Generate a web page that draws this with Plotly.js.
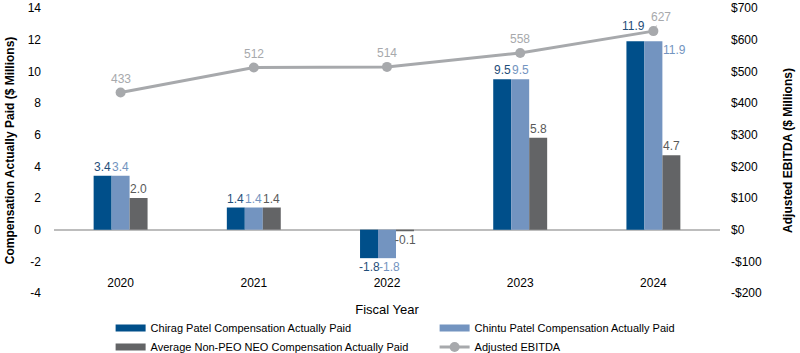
<!DOCTYPE html>
<html>
<head>
<meta charset="utf-8">
<script src="https://cdn.plot.ly/plotly-3.0.1.min.js"></script>
<style>html,body{margin:0;padding:0;background:#fff;}#chart{width:800px;height:353px;}</style>
</head>
<body>
<div id="chart"></div>
<script>
var years = ['2020', '2021', '2022', '2023', '2024'];
var chirag = [3.4, 1.4, -1.8, 9.5, 11.9];
var chintu = [3.4, 1.4, -1.8, 9.5, 11.9];
var avgNeo = [2.0, 1.4, -0.1, 5.8, 4.7];
var ebitda = [433, 512, 514, 558, 627];

var leftTickVals = [-4, -2, 0, 2, 4, 6, 8, 10, 12, 14];
var leftTickText = ['-4', '-2', '0', '2', '4', '6', '8', '10', '12', '14'];
var rightTickVals = [-200, -100, 0, 100, 200, 300, 400, 500, 600, 700];
var rightTickText = ['-$200', '-$100', '$0', '$100', '$200', '$300', '$400', '$500', '$600', '$700'];

var names = ['Chirag Patel Compensation Actually Paid', 'Chintu Patel Compensation Actually Paid',
             'Average Non-PEO NEO Compensation Actually Paid', 'Adjusted EBITDA'];
var colors = ['#004f8a', '#7394c0', '#636466', '#a7a9ac'];
var labelColors = ['#1f4e79', '#7394c0', '#595959', '#a7a9ac'];
var FONT = 'Liberation Sans, Arial, Helvetica, sans-serif';

var series = [chirag, chintu, avgNeo];
var traces = series.map(function (vals, s) {
  return {
    type: 'bar', x: years, y: vals, name: names[s], showlegend: false,
    marker: {color: colors[s]}, hoverinfo: 'skip'
  };
});
// legend keys drawn as wide flat bars (like the reference)
series.forEach(function (vals, s) {
  traces.push({
    type: 'scatter', mode: 'lines', x: [null], y: [null], name: names[s],
    line: {color: colors[s], width: 7}, legendrank: s + 1, hoverinfo: 'skip'
  });
});
traces.push({
  type: 'scatter', mode: 'lines+markers', x: years, y: ebitda, yaxis: 'y2', legendrank: 4,
  name: names[3], line: {color: colors[3], width: 3}, marker: {color: colors[3], size: 10},
  hoverinfo: 'skip', cliponaxis: false
});

var offsets = [-18, 0, 18];
var annotations = [];
series.forEach(function (vals, s) {
  vals.forEach(function (v, i) {
    var a = {
      x: i, y: v, xref: 'x', yref: 'y', text: v.toFixed(1), showarrow: false,
      font: {color: labelColors[s], size: 12, family: FONT},
      xshift: offsets[s], xanchor: 'center',
      yanchor: v >= 0 ? 'bottom' : 'top'
    };
    if (s === 1 && i === 4) {            // beside the bar
      a.xanchor = 'left'; a.xshift = offsets[s] + 8; a.yanchor = 'top';
    }
    if (s === 0 && i === 4) { a.yshift = 6; a.xshift = offsets[s] - 2; }
    if (s === 1 && i === 2) { a.xshift = offsets[s] + 2; }
    annotations.push(a);
  });
});
ebitda.forEach(function (v, i) {
  var a = {
    x: i, y: v, xref: 'x', yref: 'y2', text: String(v), showarrow: false,
    font: {color: labelColors[3], size: 12, family: FONT},
    xanchor: 'center', yanchor: 'bottom', yshift: 5
  };
  if (i === ebitda.length - 1) {
    a.showarrow = true; a.arrowhead = 0; a.arrowwidth = 1; a.arrowcolor = labelColors[3];
    a.ax = 8; a.ay = -14; a.standoff = 4; a.yanchor = 'middle'; a.yshift = 0;
  }
  annotations.push(a);
});

var layout = {
  width: 800, height: 353,
  margin: {l: 54, r: 80, t: 8, b: 60, autoexpand: false},
  paper_bgcolor: '#fff', plot_bgcolor: '#fff',
  font: {family: FONT, size: 12, color: '#000'},
  barmode: 'group', bargap: 0.595, bargroupgap: 0,
  showlegend: true,
  legend: {
    orientation: 'h', x: 0.085, xanchor: 'left', y: -0.072, yanchor: 'top',
    entrywidth: 279, entrywidthmode: 'pixels', tracegroupgap: 0,
    font: {size: 11, family: FONT, color: '#000'}, itemwidth: 30, traceorder: 'normal'
  },
  xaxis: {
    type: 'category', range: [-0.5, 4.5], showgrid: false, showline: false, zeroline: false,
    ticks: '', anchor: 'free', position: 0.068, tickfont: {size: 12, color: '#000'}, automargin: false,
    title: {text: 'Fiscal Year', font: {size: 13, color: '#000'}, standoff: 16}
  },
  yaxis: {
    range: [-4, 14], tickvals: leftTickVals, ticktext: leftTickText, automargin: false,
    showgrid: false, showline: false, zeroline: true, zerolinecolor: '#bdbdbd', zerolinewidth: 2,
    ticks: '', ticklabelstandoff: 12, tickfont: {size: 12, color: '#000'},
    title: {text: 'Compensation Actually Paid ($ Millions)', font: {size: 12, color: '#000', weight: 'bold'}, standoff: 10}
  },
  yaxis2: {
    overlaying: 'y', side: 'right', range: [-200, 700], tickvals: rightTickVals, ticktext: rightTickText,
    showgrid: false, showline: false, zeroline: false, ticks: '', ticklabelstandoff: 10, automargin: false,
    tickfont: {size: 12, color: '#000'},
    title: {text: 'Adjusted EBITDA ($ Millions)', font: {size: 12, color: '#000', weight: 'bold'}, standoff: 22}
  },
  annotations: annotations
};

Plotly.newPlot('chart', traces, layout, {displayModeBar: false, staticPlot: true});
</script>
</body>
</html>
